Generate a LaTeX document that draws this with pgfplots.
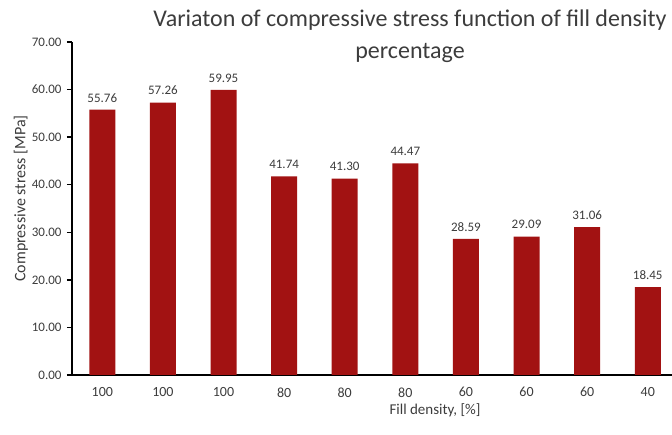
\documentclass[border=0pt]{standalone}
\usepackage{pgfplots}
\pgfplotsset{compat=1.18}
\usepackage{fontspec}
\setmainfont{Carlito}
\definecolor{barred}{RGB}{162,18,18}
\definecolor{txt}{RGB}{60,60,60}
\begin{document}
\begin{tikzpicture}
\useasboundingbox (-72pt,-60pt) rectangle (600pt,375pt);
\begin{axis}[
  scale only axis, width=600pt, height=333pt,
  xmin=-0.5, xmax=9.4, ymin=0, ymax=70,
  axis x line=bottom, axis y line=left,
  axis line style={-, line width=1.8pt, black},
  /pgf/number format/assume math mode=true,
  ytick={0,10,...,70},
  yticklabel={\pgfmathprintnumber[fixed,fixed zerofill,precision=2]{\tick}},
  yticklabel style={font=\fontsize{13}{15}\selectfont, text=txt, xshift=-2pt},
  xtick=data,
  xticklabels={100,100,100,80,80,80,60,60,60,40},
  xticklabel style={font=\fontsize{14}{16}\selectfont, text=txt, yshift=-4pt},
  xtick style={draw=none},
  ytick style={line width=1.3pt, black},
  tick align=outside, major tick length=5pt,
  ylabel={Compressive stress [MPa]},
  ylabel style={at={(axis description cs:-0.085,0.53)}, anchor=center, font=\fontsize{16}{18}\selectfont, text=txt},
  xlabel={Fill density, [\%]},
  xlabel style={at={(axis description cs:0.605,-0.105)}, anchor=center, font=\fontsize{15}{17}\selectfont, text=txt},
  clip=false,
]
\addplot[ybar, bar width=26pt, fill=barred, draw=none,
  nodes near coords={\pgfmathprintnumber[fixed,fixed zerofill,precision=2]{\pgfplotspointmeta}},
  nodes near coords style={font=\fontsize{13}{15}\selectfont, text=txt, yshift=4pt}]
  coordinates {(0,55.76) (1,57.26) (2,59.95) (3,41.74) (4,41.30) (5,44.47) (6,28.59) (7,29.09) (8,31.06) (9,18.45)};
\end{axis}
\node[font=\fontsize{24}{32}\selectfont, align=center, text=txt] at (338pt,339pt) {Variaton of compressive stress function of fill density\\percentage};
\end{tikzpicture}
\end{document}
